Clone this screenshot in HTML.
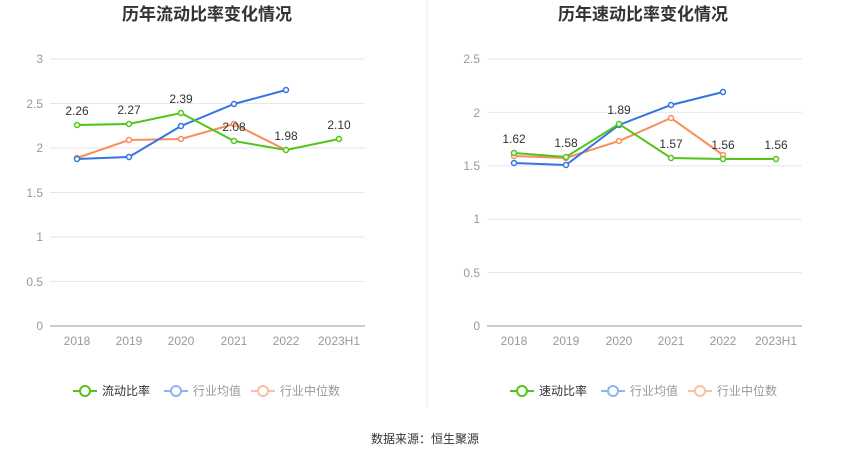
<!DOCTYPE html>
<html><head><meta charset="utf-8"><style>
body{margin:0;background:#fff;}
svg text{font-family:"Liberation Sans","Noto Sans CJK SC",sans-serif;}
</style></head><body>
<svg width="850" height="459" viewBox="0 0 850 459" xmlns="http://www.w3.org/2000/svg">
<rect width="850" height="459" fill="#fff"/>
<line x1="427" y1="0" x2="427" y2="408" stroke="#eee"/>
<text x="207" y="20" text-anchor="middle" font-size="17" font-weight="bold" fill="#333">历年流动比率变化情况</text>
<text x="643" y="20" text-anchor="middle" font-size="17" font-weight="bold" fill="#333">历年速动比率变化情况</text>
<g font-size="12" fill="#999">
<!-- left grid -->
<g stroke="#e6e6ee">
<line x1="50" x2="365" y1="59" y2="59"/><line x1="50" x2="365" y1="103.5" y2="103.5"/><line x1="50" x2="365" y1="148" y2="148"/><line x1="50" x2="365" y1="192.5" y2="192.5"/><line x1="50" x2="365" y1="237" y2="237"/><line x1="50" x2="365" y1="281.5" y2="281.5"/>
</g>
<line x1="50" x2="365" y1="326" y2="326" stroke="#999"/>
<g text-anchor="end"><text x="43" y="63">3</text><text x="43" y="108">2.5</text><text x="43" y="152">2</text><text x="43" y="197">1.5</text><text x="43" y="241">1</text><text x="43" y="286">0.5</text><text x="43" y="330">0</text></g>
<g text-anchor="middle"><text x="77" y="345">2018</text><text x="129" y="345">2019</text><text x="181" y="345">2020</text><text x="234" y="345">2021</text><text x="286" y="345">2022</text><text x="339" y="345">2023H1</text></g>
<!-- right grid -->
<g stroke="#e6e6ee">
<line x1="487" x2="802" y1="59" y2="59"/><line x1="487" x2="802" y1="112.4" y2="112.4"/><line x1="487" x2="802" y1="165.8" y2="165.8"/><line x1="487" x2="802" y1="219.2" y2="219.2"/><line x1="487" x2="802" y1="272.6" y2="272.6"/>
</g>
<line x1="487" x2="802" y1="326" y2="326" stroke="#999"/>
<g text-anchor="end"><text x="480" y="63">2.5</text><text x="480" y="117">2</text><text x="480" y="170">1.5</text><text x="480" y="223">1</text><text x="480" y="277">0.5</text><text x="480" y="330">0</text></g>
<g text-anchor="middle"><text x="514" y="345">2018</text><text x="566" y="345">2019</text><text x="619" y="345">2020</text><text x="671" y="345">2021</text><text x="723" y="345">2022</text><text x="776" y="345">2023H1</text></g>
</g>
<!-- left series -->
<g fill="#fff" stroke-width="2">
<polyline fill="none" stroke="#f98d5c" points="77,158 129,140 181,139 234,124 286,150"/>
<polyline fill="none" stroke="#3474e3" points="77,159 129,157 181,126 234,104 286,90"/>
<polyline fill="none" stroke="#52c41a" points="77,125 129,124 181,113 234,141 286,150 339,139"/>
<g stroke="#f98d5c" stroke-width="1.5"><circle cx="77" cy="158" r="2.5"/><circle cx="129" cy="140" r="2.5"/><circle cx="181" cy="139" r="2.5"/><circle cx="234" cy="124" r="2.5"/><circle cx="286" cy="150" r="2.5"/></g>
<g stroke="#3474e3" stroke-width="1.5"><circle cx="77" cy="159" r="2.5"/><circle cx="129" cy="157" r="2.5"/><circle cx="181" cy="126" r="2.5"/><circle cx="234" cy="104" r="2.5"/><circle cx="286" cy="90" r="2.5"/></g>
<g stroke="#52c41a" stroke-width="1.5"><circle cx="77" cy="125" r="2.5"/><circle cx="129" cy="124" r="2.5"/><circle cx="181" cy="113" r="2.5"/><circle cx="234" cy="141" r="2.5"/><circle cx="286" cy="150" r="2.5"/><circle cx="339" cy="139" r="2.5"/></g>
</g>
<g font-size="12" fill="#333" text-anchor="middle"><text x="77" y="115">2.26</text><text x="129" y="114">2.27</text><text x="181" y="103">2.39</text><text x="234" y="131">2.08</text><text x="286" y="140">1.98</text><text x="339" y="129">2.10</text></g>
<!-- right series -->
<g fill="#fff" stroke-width="2">
<polyline fill="none" stroke="#f98d5c" points="514,156 566,158 619,141 671,118 723,155"/>
<polyline fill="none" stroke="#3474e3" points="514,163 566,165 619,125 671,105 723,92"/>
<polyline fill="none" stroke="#52c41a" points="514,153 566,157 619,124 671,158 723,159 776,159"/>
<g stroke="#f98d5c" stroke-width="1.5"><circle cx="514" cy="156" r="2.5"/><circle cx="566" cy="158" r="2.5"/><circle cx="619" cy="141" r="2.5"/><circle cx="671" cy="118" r="2.5"/><circle cx="723" cy="155" r="2.5"/></g>
<g stroke="#3474e3" stroke-width="1.5"><circle cx="514" cy="163" r="2.5"/><circle cx="566" cy="165" r="2.5"/><circle cx="619" cy="125" r="2.5"/><circle cx="671" cy="105" r="2.5"/><circle cx="723" cy="92" r="2.5"/></g>
<g stroke="#52c41a" stroke-width="1.5"><circle cx="514" cy="153" r="2.5"/><circle cx="566" cy="157" r="2.5"/><circle cx="619" cy="124" r="2.5"/><circle cx="671" cy="158" r="2.5"/><circle cx="723" cy="159" r="2.5"/><circle cx="776" cy="159" r="2.5"/></g>
</g>
<g font-size="12" fill="#333" text-anchor="middle"><text x="514" y="143">1.62</text><text x="566" y="147">1.58</text><text x="619" y="114">1.89</text><text x="671" y="148">1.57</text><text x="723" y="149">1.56</text><text x="776" y="149">1.56</text></g>
<!-- legends -->
<g font-size="12" fill="#666" stroke-width="2">
<line x1="73" x2="97" y1="391" y2="391" stroke="#52c41a"/><circle cx="85" cy="391" r="5" fill="#fff" stroke="#52c41a"/><text x="102" y="395" stroke="none" fill="#333">流动比率</text>
<line x1="164" x2="188" y1="391" y2="391" stroke="#8fb3f0"/><circle cx="176" cy="391" r="5" fill="#fff" stroke="#8fb3f0"/><text x="193" y="395" stroke="none" fill="#999">行业均值</text>
<line x1="251" x2="275" y1="391" y2="391" stroke="#fbbfa3"/><circle cx="263" cy="391" r="5" fill="#fff" stroke="#fbbfa3"/><text x="280" y="395" stroke="none" fill="#999">行业中位数</text>
<line x1="510" x2="534" y1="391" y2="391" stroke="#52c41a"/><circle cx="522" cy="391" r="5" fill="#fff" stroke="#52c41a"/><text x="539" y="395" stroke="none" fill="#333">速动比率</text>
<line x1="601" x2="625" y1="391" y2="391" stroke="#8fb3f0"/><circle cx="613" cy="391" r="5" fill="#fff" stroke="#8fb3f0"/><text x="630" y="395" stroke="none" fill="#999">行业均值</text>
<line x1="688" x2="712" y1="391" y2="391" stroke="#fbbfa3"/><circle cx="700" cy="391" r="5" fill="#fff" stroke="#fbbfa3"/><text x="717" y="395" stroke="none" fill="#999">行业中位数</text>
</g>
<text x="425" y="443" text-anchor="middle" font-size="12" fill="#333">数据来源：恒生聚源</text>
</svg>
</body></html>
